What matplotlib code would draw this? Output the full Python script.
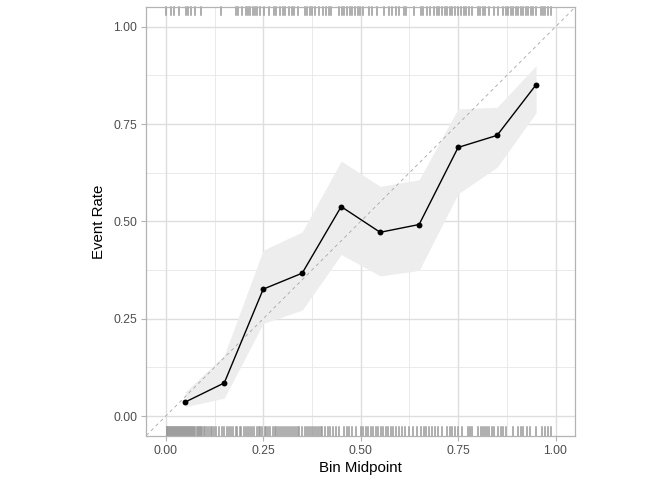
import numpy as np
import matplotlib
matplotlib.use("Agg")
import matplotlib.pyplot as plt

plt.rcParams["font.family"] = ["Liberation Sans", "DejaVu Sans"]

# calibration bins
bin_mid = [0.05, 0.15, 0.25, 0.35, 0.45, 0.55, 0.65, 0.75, 0.85, 0.95]
event_rate = [0.036, 0.085, 0.326, 0.367, 0.538, 0.472, 0.492, 0.690, 0.721, 0.851]
ci_low = [0.024, 0.046, 0.238, 0.272, 0.415, 0.360, 0.374, 0.571, 0.639, 0.779]
ci_high = [0.062, 0.156, 0.426, 0.473, 0.655, 0.590, 0.607, 0.789, 0.793, 0.900]

# predicted probabilities for observed events (top rug)
rug_events = [
    0.001, 0.014, 0.020, 0.033, 0.052, 0.057, 0.064, 0.074, 0.091, 0.141,
    0.180, 0.186, 0.195, 0.205, 0.211, 0.217, 0.223, 0.228, 0.233, 0.241,
    0.252, 0.265, 0.277, 0.284, 0.292, 0.301, 0.307, 0.315, 0.323,
    0.330, 0.339, 0.356, 0.362, 0.369, 0.375, 0.384, 0.394, 0.403, 0.411,
    0.418, 0.424, 0.445, 0.452, 0.458, 0.464, 0.472, 0.479, 0.486, 0.492,
    0.498, 0.505, 0.522, 0.529, 0.543, 0.560, 0.573, 0.581, 0.590, 0.598,
    0.611, 0.617, 0.636, 0.654, 0.659, 0.670, 0.679, 0.688, 0.696, 0.702,
    0.709, 0.716, 0.721, 0.728, 0.734, 0.741, 0.751, 0.758, 0.764, 0.770,
    0.777, 0.785, 0.801, 0.807, 0.813, 0.819, 0.828, 0.843, 0.853, 0.866,
    0.872, 0.879, 0.886, 0.892, 0.898, 0.904, 0.911, 0.917, 0.923, 0.930,
    0.937, 0.943, 0.951, 0.962, 0.968, 0.974, 0.981, 0.988,
]

# predicted probabilities for non-events (bottom rug)
rug_nonevents = [
    0.002, 0.004, 0.006, 0.009, 0.011, 0.013, 0.016, 0.018, 0.021, 0.023,
    0.026, 0.028, 0.031, 0.033, 0.036, 0.039, 0.041, 0.044, 0.046, 0.049,
    0.052, 0.054, 0.057, 0.060, 0.062, 0.065, 0.068, 0.071, 0.073, 0.076,
    0.079, 0.082, 0.085, 0.088, 0.091, 0.094, 0.097, 0.100,
    0.105, 0.111, 0.115, 0.119, 0.124, 0.130, 0.137, 0.143, 0.149, 0.156,
    0.161, 0.168, 0.173, 0.180, 0.183, 0.190, 0.194, 0.200, 0.205, 0.211,
    0.216, 0.222, 0.226, 0.233, 0.238, 0.241, 0.246, 0.254, 0.258, 0.262,
    0.268, 0.275, 0.279, 0.284, 0.289, 0.294, 0.299, 0.304, 0.309, 0.314,
    0.319, 0.324, 0.328, 0.333, 0.338, 0.343, 0.350, 0.356, 0.362, 0.367,
    0.373, 0.377, 0.382, 0.387, 0.392, 0.398, 0.402, 0.409, 0.415, 0.421,
    0.428, 0.436, 0.445, 0.458, 0.464, 0.471, 0.478, 0.488, 0.501, 0.507,
    0.513, 0.520, 0.526, 0.532, 0.539, 0.545, 0.552, 0.557, 0.564, 0.571,
    0.577, 0.583, 0.590, 0.598, 0.607, 0.615, 0.625, 0.634, 0.645, 0.656,
    0.662, 0.668, 0.675, 0.683, 0.692, 0.698, 0.709, 0.721, 0.728, 0.734,
    0.741, 0.750, 0.760, 0.775, 0.781, 0.785, 0.802, 0.809, 0.815, 0.819,
    0.823, 0.828, 0.836, 0.843, 0.853, 0.861, 0.866, 0.872, 0.892, 0.904,
    0.911, 0.917, 0.926, 0.934, 0.951, 0.964, 0.972, 0.981, 0.988,
]

ticks = [0.0, 0.25, 0.5, 0.75, 1.0]
tick_labels = ["0.00", "0.25", "0.50", "0.75", "1.00"]

fig = plt.figure(figsize=(6.72, 4.8), dpi=100)
ax = fig.add_axes([0.2177, 0.0927, 0.638, 0.8921])

ax.set_xlim(-0.05, 1.05)
ax.set_ylim(-0.05, 1.05)

# grid (theme_light style)
for v in [0.125, 0.375, 0.625, 0.875]:
    ax.axvline(v, color="#E6E6E6", lw=0.6, zorder=0)
    ax.axhline(v, color="#E6E6E6", lw=0.6, zorder=0)
for v in ticks:
    ax.axvline(v, color="#DEDEDE", lw=1.0, zorder=0)
    ax.axhline(v, color="#DEDEDE", lw=1.0, zorder=0)

ax.fill_between(bin_mid, ci_low, ci_high, color="#EDEDED", lw=0, zorder=1)
ax.plot([-0.05, 1.05], [-0.05, 1.05], color="#A6A6A6", lw=0.6,
        ls=(0, (4, 4)), zorder=2)
ax.plot(bin_mid, event_rate, color="black", lw=1.0, zorder=3)
ax.scatter(bin_mid, event_rate, s=18, color="black", zorder=4, lw=0)

# rugs
rug_len = 0.019
trans = ax.get_xaxis_transform()
for x in rug_nonevents:
    ax.plot([x, x], [0, rug_len], color="#999999", lw=1.1, transform=trans,
            clip_on=False, zorder=2)
for x in rug_events:
    ax.plot([x, x], [1 - rug_len, 1], color="#999999", lw=1.1, transform=trans,
            clip_on=False, zorder=2)

ax.set_xticks(ticks)
ax.set_xticklabels(tick_labels)
ax.set_yticks(ticks)
ax.set_yticklabels(tick_labels)
ax.tick_params(length=3.5, width=0.8, color="#B3B3B3", labelcolor="#4D4D4D",
               labelsize=8.7, pad=3)

for s in ax.spines.values():
    s.set_color("#B3B3B3")
    s.set_linewidth(0.9)

ax.set_xlabel("Bin Midpoint", fontsize=10.8, labelpad=3)
ax.set_ylabel("Event Rate", fontsize=10.8, labelpad=5)

fig.savefig("out.png", dpi=100)
